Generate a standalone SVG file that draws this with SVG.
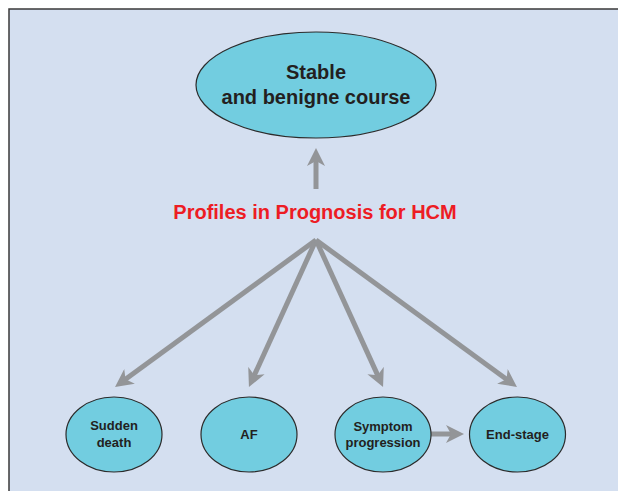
<svg xmlns="http://www.w3.org/2000/svg" width="618" height="491" viewBox="0 0 618 491">
<style>
.node{fill:#72cde0;stroke:#2b2b2b;stroke-width:1.2}
.lbl{font-family:"Liberation Sans",Arial,sans-serif;font-weight:bold;fill:#231f20;text-anchor:middle}
.big{font-size:20px}
.sm{font-size:13px}
.conn line{stroke:#939598;stroke-width:5;fill:none}
</style>
<defs>
<marker id="ah" markerUnits="userSpaceOnUse" markerWidth="18" markerHeight="18" viewBox="0 0 18 18" refX="8" refY="9" orient="auto">
<path d="M0,0 L18,9 L0,18 L5,9 z" fill="#939598"/>
</marker>
</defs>
<rect x="0" y="0" width="618" height="491" fill="#ffffff"/>
<rect x="9" y="9" width="620" height="500" fill="#d4dff0" stroke="#3a3a3a" stroke-width="1.5"/>
<g id="stable">
<ellipse class="node" cx="316" cy="85" rx="120" ry="53"/>
<text class="lbl big" x="316" y="79">Stable</text>
<text class="lbl big" x="316" y="104">and benigne course</text>
</g>
<g id="title">
<text x="315" y="219" font-family="'Liberation Sans',Arial,sans-serif" font-weight="bold" font-size="20" fill="#ed1c24" text-anchor="middle">Profiles in Prognosis for HCM</text>
</g>
<g class="conn" id="connectors">
<line x1="316" y1="189" x2="316" y2="158" marker-end="url(#ah)"/>
<line x1="316" y1="240" x2="123.1" y2="381.1" marker-end="url(#ah)"/>
<line x1="316" y1="240" x2="253.1" y2="377.9" marker-end="url(#ah)"/>
<line x1="316" y1="240" x2="378.9" y2="377.9" marker-end="url(#ah)"/>
<line x1="316" y1="240" x2="508.9" y2="381.1" marker-end="url(#ah)"/>
<line x1="431" y1="434" x2="454" y2="434" marker-end="url(#ah)"/>
</g>
<g id="sudden">
<ellipse class="node" cx="114" cy="434.5" rx="48" ry="37.5"/>
<text class="lbl sm" x="114" y="430">Sudden</text>
<text class="lbl sm" x="114" y="447">death</text>
</g>
<g id="af">
<ellipse class="node" cx="249" cy="434.5" rx="48" ry="37.5"/>
<text class="lbl sm" x="249" y="439">AF</text>
</g>
<g id="symptom">
<ellipse class="node" cx="383" cy="434.5" rx="48" ry="37.5"/>
<text class="lbl sm" x="383" y="431">Symptom</text>
<text class="lbl sm" x="383" y="447">progression</text>
</g>
<g id="endstage">
<ellipse class="node" cx="517.5" cy="434.5" rx="48" ry="37.5"/>
<text class="lbl sm" x="517.5" y="439">End-stage</text>
</g>
</svg>
